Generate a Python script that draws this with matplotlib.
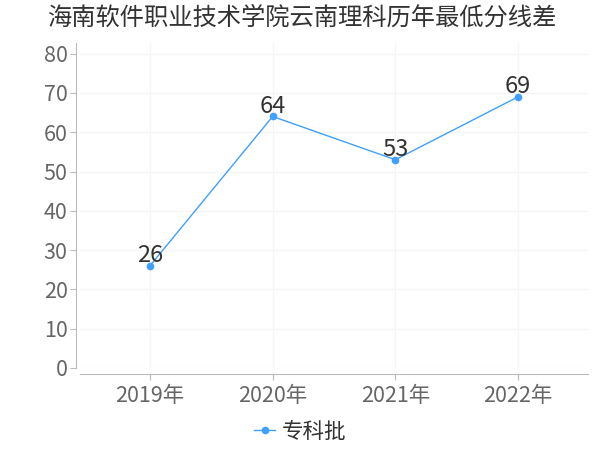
import matplotlib
matplotlib.use('Agg')
import matplotlib.pyplot as plt
import numpy as np

plt.rcParams['font.family'] = ['Noto Sans CJK SC', 'DejaVu Sans']

# data
years = ['2019年', '2020年', '2021年', '2022年']
scores = [26, 64, 53, 69]
series_name = '专科批'
title = '海南软件职业技术学院云南理科历年最低分线差'

line_c = '#3fa0ff'
spine_c = '#bbbbbb'
grid_c = '#f5f5f5'

fig = plt.figure(figsize=(6, 4.5), dpi=100)
ax = fig.add_axes([80/600, 1-368/450, 508/600, 325/450])

x = np.arange(len(years))
ax.plot(x, scores, color=line_c, lw=1, marker='o', ms=4.5, label=series_name, zorder=3)
for xi, v in zip(x, scores):
    ax.annotate(str(v), (xi, v), xytext=(0, -1), textcoords='offset points',
                ha='center', va='bottom', fontsize=17, color='#333333')

ax.set_xlim(-0.57, len(years) - 1 + 0.57)
ax.set_ylim(0, 82.7)
ax.set_yticks(range(0, 81, 10))
ax.set_xticks(x)
ax.set_xticklabels(years)

ax.grid(True, color=grid_c, lw=1)
ax.set_axisbelow(True)
for s in ['top', 'right']:
    ax.spines[s].set_visible(False)
ax.spines['left'].set_position(('outward', 3))
ax.spines['bottom'].set_position(('outward', 4))
for s in ['left', 'bottom']:
    ax.spines[s].set_color(spine_c)
ax.tick_params(axis='both', colors=spine_c, labelcolor='#666666', labelsize=15.5, length=4)
ax.tick_params(axis='y', pad=2)
ax.tick_params(axis='x', pad=4)

fig.text(47/600, 1-18/450, title, fontsize=17.5, color='#333333', ha='left', va='center')

fig.legend(loc='center', bbox_to_anchor=(0.5, 1-432/450), frameon=False,
           fontsize=15.5, handlelength=1.0, handletextpad=0.3, labelcolor='#333333')

fig.savefig('out.png', dpi=100)
